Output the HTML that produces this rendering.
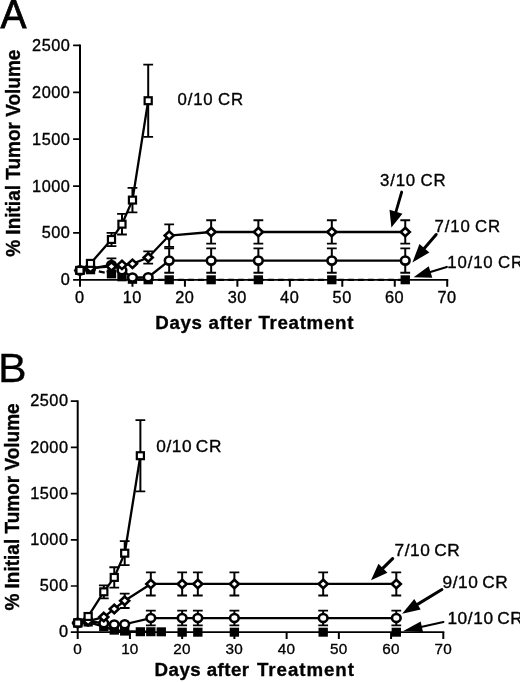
<!DOCTYPE html>
<html lang="en">
<head>
<meta charset="utf-8">
<title>Tumor volume after treatment</title>
<style>
html,body{margin:0;padding:0;background:#fff;}
body{width:520px;height:682px;overflow:hidden;}
svg{display:block;font-family:"Liberation Sans",Arial,Helvetica,sans-serif;fill:#000;}
text{stroke:#000;stroke-width:.35px;}
</style>
</head>
<body>
<svg width="520" height="682" viewBox="0 0 520 682">
<rect width="520" height="682" fill="#fff"/>
<g opacity="0.999">
<path d="M80.00 44.55V280.65" fill="none" stroke="#000" stroke-width="2.0"/>
<path d="M79.00 279.80H448.22" fill="none" stroke="#000" stroke-width="1.7"/>
<path d="M73.10 279.80H80.00M73.10 232.92H80.00M73.10 186.04H80.00M73.10 139.16H80.00M73.10 92.28H80.00M73.10 45.40H80.00" stroke="#000" stroke-width="1.7"/>
<path d="M80.00 279.80V286.70M132.46 279.80V286.70M184.92 279.80V286.70M237.38 279.80V286.70M289.84 279.80V286.70M342.30 279.80V286.70M394.76 279.80V286.70M447.22 279.80V286.70" stroke="#000" stroke-width="2.0"/>
<text transform="translate(69.90 285.30) scale(1.04 1)" x="0.50" font-size="15.7" letter-spacing="0.5" text-anchor="end">0</text>
<text transform="translate(69.90 238.42) scale(1.04 1)" x="0.50" font-size="15.7" letter-spacing="0.5" text-anchor="end">500</text>
<text transform="translate(69.90 191.54) scale(1.04 1)" x="0.50" font-size="15.7" letter-spacing="0.5" text-anchor="end">1000</text>
<text transform="translate(69.90 144.66) scale(1.04 1)" x="0.50" font-size="15.7" letter-spacing="0.5" text-anchor="end">1500</text>
<text transform="translate(69.90 97.78) scale(1.04 1)" x="0.50" font-size="15.7" letter-spacing="0.5" text-anchor="end">2000</text>
<text transform="translate(69.90 50.90) scale(1.04 1)" x="0.50" font-size="15.7" letter-spacing="0.5" text-anchor="end">2500</text>
<text transform="translate(79.60 302.90) scale(1.04 1)" x="0.25" font-size="15.7" letter-spacing="0.5" text-anchor="middle">0</text>
<text transform="translate(132.06 302.90) scale(1.04 1)" x="0.25" font-size="15.7" letter-spacing="0.5" text-anchor="middle">10</text>
<text transform="translate(184.52 302.90) scale(1.04 1)" x="0.25" font-size="15.7" letter-spacing="0.5" text-anchor="middle">20</text>
<text transform="translate(236.98 302.90) scale(1.04 1)" x="0.25" font-size="15.7" letter-spacing="0.5" text-anchor="middle">30</text>
<text transform="translate(289.44 302.90) scale(1.04 1)" x="0.25" font-size="15.7" letter-spacing="0.5" text-anchor="middle">40</text>
<text transform="translate(341.90 302.90) scale(1.04 1)" x="0.25" font-size="15.7" letter-spacing="0.5" text-anchor="middle">50</text>
<text transform="translate(394.36 302.90) scale(1.04 1)" x="0.25" font-size="15.7" letter-spacing="0.5" text-anchor="middle">60</text>
<text transform="translate(446.82 302.90) scale(1.04 1)" x="0.25" font-size="15.7" letter-spacing="0.5" text-anchor="middle">70</text>
<path d="M80.00 270.42L90.49 269.77L111.48 273.89L121.97 276.80L132.46 279.33L148.20 279.80L169.18 279.80L211.15 279.80L258.36 279.80L331.81 279.80L405.25 279.80" fill="none" stroke="#000" stroke-width="2.3" stroke-linejoin="round" stroke-dasharray="6 4" stroke-dashoffset="1"/>
<rect x="75.32" y="265.92" width="9.36" height="9.0" fill="#000"/>
<rect x="85.81" y="265.27" width="9.36" height="9.0" fill="#000"/>
<rect x="106.80" y="269.39" width="9.36" height="9.0" fill="#000"/>
<rect x="117.29" y="272.30" width="9.36" height="9.0" fill="#000"/>
<rect x="127.78" y="274.83" width="9.36" height="9.0" fill="#000"/>
<rect x="143.52" y="275.30" width="9.36" height="9.0" fill="#000"/>
<rect x="164.50" y="275.30" width="9.36" height="9.0" fill="#000"/>
<rect x="206.47" y="275.30" width="9.36" height="9.0" fill="#000"/>
<rect x="253.68" y="275.30" width="9.36" height="9.0" fill="#000"/>
<rect x="327.13" y="275.30" width="9.36" height="9.0" fill="#000"/>
<rect x="400.57" y="275.30" width="9.36" height="9.0" fill="#000"/>
<path d="M80.00 270.42L90.49 268.55L111.48 264.99L121.97 270.24L132.46 277.55L148.20 277.27L169.18 260.58L211.15 260.58L258.36 260.58L331.81 260.58L405.25 260.58" fill="none" stroke="#000" stroke-width="2.3" stroke-linejoin="round"/>
<path d="M111.48 258.42V271.55" fill="none" stroke="#000" stroke-width="2.0"/><path d="M106.58 258.42H116.38M106.58 271.55H116.38" fill="none" stroke="#000" stroke-width="1.8"/>
<path d="M169.18 248.39V272.77" fill="none" stroke="#000" stroke-width="2.0"/><path d="M164.28 248.39H174.08M164.28 272.77H174.08" fill="none" stroke="#000" stroke-width="1.8"/>
<path d="M211.15 248.39V272.77" fill="none" stroke="#000" stroke-width="2.0"/><path d="M206.25 248.39H216.05M206.25 272.77H216.05" fill="none" stroke="#000" stroke-width="1.8"/>
<path d="M258.36 248.39V272.77" fill="none" stroke="#000" stroke-width="2.0"/><path d="M253.46 248.39H263.26M253.46 272.77H263.26" fill="none" stroke="#000" stroke-width="1.8"/>
<path d="M331.81 248.39V272.77" fill="none" stroke="#000" stroke-width="2.0"/><path d="M326.91 248.39H336.71M326.91 272.77H336.71" fill="none" stroke="#000" stroke-width="1.8"/>
<path d="M405.25 248.39V272.77" fill="none" stroke="#000" stroke-width="2.0"/><path d="M400.35 248.39H410.15M400.35 272.77H410.15" fill="none" stroke="#000" stroke-width="1.8"/>
<ellipse cx="80.00" cy="270.42" rx="4.33" ry="4.05" fill="#fff" stroke="#000" stroke-width="2.6"/>
<ellipse cx="90.49" cy="268.55" rx="4.33" ry="4.05" fill="#fff" stroke="#000" stroke-width="2.6"/>
<ellipse cx="111.48" cy="264.99" rx="4.33" ry="4.05" fill="#fff" stroke="#000" stroke-width="2.6"/>
<ellipse cx="121.97" cy="270.24" rx="4.33" ry="4.05" fill="#fff" stroke="#000" stroke-width="2.6"/>
<ellipse cx="132.46" cy="277.55" rx="4.33" ry="4.05" fill="#fff" stroke="#000" stroke-width="2.6"/>
<ellipse cx="148.20" cy="277.27" rx="4.33" ry="4.05" fill="#fff" stroke="#000" stroke-width="2.6"/>
<ellipse cx="169.18" cy="260.58" rx="4.33" ry="4.05" fill="#fff" stroke="#000" stroke-width="2.6"/>
<ellipse cx="211.15" cy="260.58" rx="4.33" ry="4.05" fill="#fff" stroke="#000" stroke-width="2.6"/>
<ellipse cx="258.36" cy="260.58" rx="4.33" ry="4.05" fill="#fff" stroke="#000" stroke-width="2.6"/>
<ellipse cx="331.81" cy="260.58" rx="4.33" ry="4.05" fill="#fff" stroke="#000" stroke-width="2.6"/>
<ellipse cx="405.25" cy="260.58" rx="4.33" ry="4.05" fill="#fff" stroke="#000" stroke-width="2.6"/>
<path d="M80.00 270.42L90.49 268.08L111.48 266.39L121.97 264.89L132.46 263.86L148.20 257.49L169.18 235.55L211.15 231.98L258.36 231.98L331.81 231.98L405.25 231.98" fill="none" stroke="#000" stroke-width="2.3" stroke-linejoin="round"/>
<path d="M148.20 251.39V263.58" fill="none" stroke="#000" stroke-width="2.0"/><path d="M143.30 251.39H153.10M143.30 263.58H153.10" fill="none" stroke="#000" stroke-width="1.8"/>
<path d="M169.18 224.29V246.80" fill="none" stroke="#000" stroke-width="2.0"/><path d="M164.28 224.29H174.08M164.28 246.80H174.08" fill="none" stroke="#000" stroke-width="1.8"/>
<path d="M211.15 220.26V243.70" fill="none" stroke="#000" stroke-width="2.0"/><path d="M206.25 220.26H216.05M206.25 243.70H216.05" fill="none" stroke="#000" stroke-width="1.8"/>
<path d="M258.36 220.26V243.70" fill="none" stroke="#000" stroke-width="2.0"/><path d="M253.46 220.26H263.26M253.46 243.70H263.26" fill="none" stroke="#000" stroke-width="1.8"/>
<path d="M331.81 220.26V243.70" fill="none" stroke="#000" stroke-width="2.0"/><path d="M326.91 220.26H336.71M326.91 243.70H336.71" fill="none" stroke="#000" stroke-width="1.8"/>
<path d="M405.25 220.26V243.70" fill="none" stroke="#000" stroke-width="2.0"/><path d="M400.35 220.26H410.15M400.35 243.70H410.15" fill="none" stroke="#000" stroke-width="1.8"/>
<path d="M80.00 266.22L84.49 270.42L80.00 274.62L75.51 270.42Z" fill="#fff" stroke="#000" stroke-width="2.6" stroke-linejoin="miter"/>
<path d="M90.49 263.88L94.99 268.08L90.49 272.28L86.00 268.08Z" fill="#fff" stroke="#000" stroke-width="2.6" stroke-linejoin="miter"/>
<path d="M111.48 262.19L115.97 266.39L111.48 270.59L106.98 266.39Z" fill="#fff" stroke="#000" stroke-width="2.6" stroke-linejoin="miter"/>
<path d="M121.97 260.69L126.46 264.89L121.97 269.09L117.47 264.89Z" fill="#fff" stroke="#000" stroke-width="2.6" stroke-linejoin="miter"/>
<path d="M132.46 259.66L136.95 263.86L132.46 268.06L127.97 263.86Z" fill="#fff" stroke="#000" stroke-width="2.6" stroke-linejoin="miter"/>
<path d="M148.20 253.29L152.69 257.49L148.20 261.69L143.70 257.49Z" fill="#fff" stroke="#000" stroke-width="2.6" stroke-linejoin="miter"/>
<path d="M169.18 231.35L173.68 235.55L169.18 239.75L164.69 235.55Z" fill="#fff" stroke="#000" stroke-width="2.6" stroke-linejoin="miter"/>
<path d="M211.15 227.78L215.64 231.98L211.15 236.18L206.66 231.98Z" fill="#fff" stroke="#000" stroke-width="2.6" stroke-linejoin="miter"/>
<path d="M258.36 227.78L262.86 231.98L258.36 236.18L253.87 231.98Z" fill="#fff" stroke="#000" stroke-width="2.6" stroke-linejoin="miter"/>
<path d="M331.81 227.78L336.30 231.98L331.81 236.18L327.31 231.98Z" fill="#fff" stroke="#000" stroke-width="2.6" stroke-linejoin="miter"/>
<path d="M405.25 227.78L409.75 231.98L405.25 236.18L400.76 231.98Z" fill="#fff" stroke="#000" stroke-width="2.6" stroke-linejoin="miter"/>
<path d="M80.00 270.42L90.49 263.39L111.48 239.48L121.97 224.20L132.46 200.10L148.20 100.72" fill="none" stroke="#000" stroke-width="2.3" stroke-linejoin="round"/>
<path d="M111.48 232.92V246.05" fill="none" stroke="#000" stroke-width="2.0"/><path d="M106.58 232.92H116.38M106.58 246.05H116.38" fill="none" stroke="#000" stroke-width="1.8"/>
<path d="M121.97 213.89V234.51" fill="none" stroke="#000" stroke-width="2.0"/><path d="M117.07 213.89H126.87M117.07 234.51H126.87" fill="none" stroke="#000" stroke-width="1.8"/>
<path d="M132.46 187.92V212.29" fill="none" stroke="#000" stroke-width="2.0"/><path d="M127.56 187.92H137.36M127.56 212.29H137.36" fill="none" stroke="#000" stroke-width="1.8"/>
<path d="M148.20 64.62V136.82" fill="none" stroke="#000" stroke-width="2.0"/><path d="M143.30 64.62H153.10M143.30 136.82H153.10" fill="none" stroke="#000" stroke-width="1.8"/>
<rect x="76.45" y="266.97" width="7.11" height="6.9" fill="#fff" stroke="#000" stroke-width="2.2"/>
<rect x="86.94" y="259.94" width="7.11" height="6.9" fill="#fff" stroke="#000" stroke-width="2.2"/>
<rect x="107.92" y="236.03" width="7.11" height="6.9" fill="#fff" stroke="#000" stroke-width="2.2"/>
<rect x="118.41" y="220.75" width="7.11" height="6.9" fill="#fff" stroke="#000" stroke-width="2.2"/>
<rect x="128.91" y="196.65" width="7.11" height="6.9" fill="#fff" stroke="#000" stroke-width="2.2"/>
<rect x="144.64" y="97.27" width="7.11" height="6.9" fill="#fff" stroke="#000" stroke-width="2.2"/>
<text transform="translate(177.50 104.80) scale(1.05 1)" x="0.00" font-size="16" letter-spacing="0.8" word-spacing="-1.0">0/10 CR</text>
<text transform="translate(380.00 185.80) scale(1.05 1)" x="0.00" font-size="16" letter-spacing="0.8" word-spacing="-1.0">3/10 CR</text>
<text transform="translate(434.60 231.70) scale(1.05 1)" x="0.00" font-size="16" letter-spacing="0.8" word-spacing="-1.0">7/10 CR</text>
<text transform="translate(447.30 268.20) scale(1.05 1)" x="0.00" font-size="16" letter-spacing="0.8" word-spacing="-1.0">10/10 CR</text>
<path d="M401.70 192.00L395.71 212.71" stroke="#000" stroke-width="2.8" fill="none" stroke-linecap="round"/><path d="M391.40 227.60L389.50 209.87L402.47 213.63Z" fill="#000"/>
<path d="M436.20 234.50L423.76 249.09" stroke="#000" stroke-width="3.0" fill="none" stroke-linecap="round"/><path d="M412.40 262.40L419.46 244.11L429.35 252.54Z" fill="#000"/>
<path d="M446.80 267.00L429.56 272.30" stroke="#000" stroke-width="2.2" fill="none" stroke-linecap="round"/><path d="M413.60 277.20L428.73 266.17L432.31 277.83Z" fill="#000"/>
<text x="155.20" y="329.20" font-size="18.7" letter-spacing="0.7" font-weight="bold">Days after Treatment</text>
<text transform="translate(20.3 153.2) rotate(-90) scale(1 1.1)" font-size="19" text-anchor="middle" font-weight="bold">% Initial Tumor Volume</text>
<text transform="translate(0.4 28.1) scale(0.955 1.0)" font-size="40.8" style="stroke-width:.8px">A</text>
<path d="M77.70 400.35V633.05" fill="none" stroke="#000" stroke-width="2.0"/>
<path d="M76.70 632.20H444.31" fill="none" stroke="#000" stroke-width="1.7"/>
<path d="M70.80 632.20H77.70M70.80 586.00H77.70M70.80 539.80H77.70M70.80 493.60H77.70M70.80 447.40H77.70M70.80 401.20H77.70" stroke="#000" stroke-width="1.7"/>
<path d="M77.70 632.20V639.10M129.93 632.20V639.10M182.16 632.20V639.10M234.39 632.20V639.10M286.62 632.20V639.10M338.85 632.20V639.10M391.08 632.20V639.10M443.31 632.20V639.10" stroke="#000" stroke-width="2.0"/>
<text transform="translate(68.00 637.30) scale(1.04 1)" x="0.50" font-size="15.7" letter-spacing="0.5" text-anchor="end">0</text>
<text transform="translate(68.00 591.10) scale(1.04 1)" x="0.50" font-size="15.7" letter-spacing="0.5" text-anchor="end">500</text>
<text transform="translate(68.00 544.90) scale(1.04 1)" x="0.50" font-size="15.7" letter-spacing="0.5" text-anchor="end">1000</text>
<text transform="translate(68.00 498.70) scale(1.04 1)" x="0.50" font-size="15.7" letter-spacing="0.5" text-anchor="end">1500</text>
<text transform="translate(68.00 452.50) scale(1.04 1)" x="0.50" font-size="15.7" letter-spacing="0.5" text-anchor="end">2000</text>
<text transform="translate(68.00 406.30) scale(1.04 1)" x="0.50" font-size="15.7" letter-spacing="0.5" text-anchor="end">2500</text>
<text x="77.58" y="654.40" font-size="15.3" letter-spacing="0.15" text-anchor="middle">0</text>
<text x="129.81" y="654.40" font-size="15.3" letter-spacing="0.15" text-anchor="middle">10</text>
<text x="182.03" y="654.40" font-size="15.3" letter-spacing="0.15" text-anchor="middle">20</text>
<text x="234.26" y="654.40" font-size="15.3" letter-spacing="0.15" text-anchor="middle">30</text>
<text x="286.50" y="654.40" font-size="15.3" letter-spacing="0.15" text-anchor="middle">40</text>
<text x="338.72" y="654.40" font-size="15.3" letter-spacing="0.15" text-anchor="middle">50</text>
<text x="390.95" y="654.40" font-size="15.3" letter-spacing="0.15" text-anchor="middle">60</text>
<text x="443.19" y="654.40" font-size="15.3" letter-spacing="0.15" text-anchor="middle">70</text>
<path d="M77.70 622.96L88.15 622.04L103.81 626.66L114.26 630.17L124.71 631.09L140.38 631.74L150.82 631.74" fill="none" stroke="#000" stroke-width="2.3" stroke-linejoin="round"/>
<rect x="73.02" y="618.46" width="9.36" height="9.0" fill="#000"/>
<rect x="83.47" y="617.54" width="9.36" height="9.0" fill="#000"/>
<rect x="99.13" y="622.16" width="9.36" height="9.0" fill="#000"/>
<rect x="109.58" y="625.67" width="9.36" height="9.0" fill="#000"/>
<rect x="120.03" y="626.59" width="9.36" height="9.0" fill="#000"/>
<rect x="135.70" y="627.24" width="9.36" height="9.0" fill="#000"/>
<rect x="146.14" y="627.24" width="9.36" height="9.0" fill="#000"/>
<rect x="156.59" y="627.33" width="9.36" height="9.0" fill="#000"/>
<rect x="177.48" y="627.70" width="9.36" height="9.0" fill="#000"/>
<rect x="193.15" y="627.70" width="9.36" height="9.0" fill="#000"/>
<rect x="229.71" y="627.70" width="9.36" height="9.0" fill="#000"/>
<rect x="318.50" y="627.70" width="9.36" height="9.0" fill="#000"/>
<rect x="391.62" y="627.70" width="9.36" height="9.0" fill="#000"/>
<path d="M77.70 622.96L88.15 621.11L103.81 623.24L114.26 624.62L124.71 624.25L150.82 618.06L182.16 618.06L197.83 618.06L234.39 618.06L323.18 618.06L396.30 618.06" fill="none" stroke="#000" stroke-width="2.3" stroke-linejoin="round"/>
<path d="M150.82 610.67V625.45" fill="none" stroke="#000" stroke-width="2.0"/><path d="M145.92 610.67H155.72M145.92 625.45H155.72" fill="none" stroke="#000" stroke-width="1.8"/>
<path d="M182.16 610.67V625.45" fill="none" stroke="#000" stroke-width="2.0"/><path d="M177.26 610.67H187.06M177.26 625.45H187.06" fill="none" stroke="#000" stroke-width="1.8"/>
<path d="M197.83 610.67V625.45" fill="none" stroke="#000" stroke-width="2.0"/><path d="M192.93 610.67H202.73M192.93 625.45H202.73" fill="none" stroke="#000" stroke-width="1.8"/>
<path d="M234.39 610.67V625.45" fill="none" stroke="#000" stroke-width="2.0"/><path d="M229.49 610.67H239.29M229.49 625.45H239.29" fill="none" stroke="#000" stroke-width="1.8"/>
<path d="M323.18 610.67V625.45" fill="none" stroke="#000" stroke-width="2.0"/><path d="M318.28 610.67H328.08M318.28 625.45H328.08" fill="none" stroke="#000" stroke-width="1.8"/>
<path d="M396.30 610.67V625.45" fill="none" stroke="#000" stroke-width="2.0"/><path d="M391.40 610.67H401.20M391.40 625.45H401.20" fill="none" stroke="#000" stroke-width="1.8"/>
<ellipse cx="77.70" cy="622.96" rx="4.33" ry="4.05" fill="#fff" stroke="#000" stroke-width="2.6"/>
<ellipse cx="88.15" cy="621.11" rx="4.33" ry="4.05" fill="#fff" stroke="#000" stroke-width="2.6"/>
<ellipse cx="103.81" cy="623.24" rx="4.33" ry="4.05" fill="#fff" stroke="#000" stroke-width="2.6"/>
<ellipse cx="114.26" cy="624.62" rx="4.33" ry="4.05" fill="#fff" stroke="#000" stroke-width="2.6"/>
<ellipse cx="124.71" cy="624.25" rx="4.33" ry="4.05" fill="#fff" stroke="#000" stroke-width="2.6"/>
<ellipse cx="150.82" cy="618.06" rx="4.33" ry="4.05" fill="#fff" stroke="#000" stroke-width="2.6"/>
<ellipse cx="182.16" cy="618.06" rx="4.33" ry="4.05" fill="#fff" stroke="#000" stroke-width="2.6"/>
<ellipse cx="197.83" cy="618.06" rx="4.33" ry="4.05" fill="#fff" stroke="#000" stroke-width="2.6"/>
<ellipse cx="234.39" cy="618.06" rx="4.33" ry="4.05" fill="#fff" stroke="#000" stroke-width="2.6"/>
<ellipse cx="323.18" cy="618.06" rx="4.33" ry="4.05" fill="#fff" stroke="#000" stroke-width="2.6"/>
<ellipse cx="396.30" cy="618.06" rx="4.33" ry="4.05" fill="#fff" stroke="#000" stroke-width="2.6"/>
<path d="M77.70 622.96L88.15 621.11L103.81 617.05L114.26 608.92L124.71 600.78L150.82 583.97L182.16 583.97L197.83 583.97L234.39 583.97L323.18 583.97L396.30 583.97" fill="none" stroke="#000" stroke-width="2.3" stroke-linejoin="round"/>
<path d="M124.71 593.58V607.99" fill="none" stroke="#000" stroke-width="2.0"/><path d="M119.81 593.58H129.61M119.81 607.99H129.61" fill="none" stroke="#000" stroke-width="1.8"/>
<path d="M150.82 572.42V595.52" fill="none" stroke="#000" stroke-width="2.0"/><path d="M145.92 572.42H155.72M145.92 595.52H155.72" fill="none" stroke="#000" stroke-width="1.8"/>
<path d="M182.16 572.42V595.52" fill="none" stroke="#000" stroke-width="2.0"/><path d="M177.26 572.42H187.06M177.26 595.52H187.06" fill="none" stroke="#000" stroke-width="1.8"/>
<path d="M197.83 572.42V595.52" fill="none" stroke="#000" stroke-width="2.0"/><path d="M192.93 572.42H202.73M192.93 595.52H202.73" fill="none" stroke="#000" stroke-width="1.8"/>
<path d="M234.39 572.42V595.52" fill="none" stroke="#000" stroke-width="2.0"/><path d="M229.49 572.42H239.29M229.49 595.52H239.29" fill="none" stroke="#000" stroke-width="1.8"/>
<path d="M323.18 572.42V595.52" fill="none" stroke="#000" stroke-width="2.0"/><path d="M318.28 572.42H328.08M318.28 595.52H328.08" fill="none" stroke="#000" stroke-width="1.8"/>
<path d="M396.30 572.42V595.52" fill="none" stroke="#000" stroke-width="2.0"/><path d="M391.40 572.42H401.20M391.40 595.52H401.20" fill="none" stroke="#000" stroke-width="1.8"/>
<path d="M77.70 618.76L82.19 622.96L77.70 627.16L73.21 622.96Z" fill="#fff" stroke="#000" stroke-width="2.6" stroke-linejoin="miter"/>
<path d="M88.15 616.91L92.64 621.11L88.15 625.31L83.65 621.11Z" fill="#fff" stroke="#000" stroke-width="2.6" stroke-linejoin="miter"/>
<path d="M103.81 612.85L108.31 617.05L103.81 621.25L99.32 617.05Z" fill="#fff" stroke="#000" stroke-width="2.6" stroke-linejoin="miter"/>
<path d="M114.26 604.72L118.75 608.92L114.26 613.12L109.77 608.92Z" fill="#fff" stroke="#000" stroke-width="2.6" stroke-linejoin="miter"/>
<path d="M124.71 596.58L129.20 600.78L124.71 604.98L120.21 600.78Z" fill="#fff" stroke="#000" stroke-width="2.6" stroke-linejoin="miter"/>
<path d="M150.82 579.77L155.32 583.97L150.82 588.17L146.33 583.97Z" fill="#fff" stroke="#000" stroke-width="2.6" stroke-linejoin="miter"/>
<path d="M182.16 579.77L186.65 583.97L182.16 588.17L177.67 583.97Z" fill="#fff" stroke="#000" stroke-width="2.6" stroke-linejoin="miter"/>
<path d="M197.83 579.77L202.32 583.97L197.83 588.17L193.34 583.97Z" fill="#fff" stroke="#000" stroke-width="2.6" stroke-linejoin="miter"/>
<path d="M234.39 579.77L238.88 583.97L234.39 588.17L229.90 583.97Z" fill="#fff" stroke="#000" stroke-width="2.6" stroke-linejoin="miter"/>
<path d="M323.18 579.77L327.68 583.97L323.18 588.17L318.69 583.97Z" fill="#fff" stroke="#000" stroke-width="2.6" stroke-linejoin="miter"/>
<path d="M396.30 579.77L400.80 583.97L396.30 588.17L391.81 583.97Z" fill="#fff" stroke="#000" stroke-width="2.6" stroke-linejoin="miter"/>
<path d="M77.70 622.96L88.15 616.49L103.81 591.82L114.26 577.41L124.71 553.20L140.38 455.72" fill="none" stroke="#000" stroke-width="2.3" stroke-linejoin="round"/>
<path d="M103.81 585.35V598.29" fill="none" stroke="#000" stroke-width="2.0"/><path d="M98.91 585.35H108.72M98.91 598.29H108.72" fill="none" stroke="#000" stroke-width="1.8"/>
<path d="M114.26 567.24V587.57" fill="none" stroke="#000" stroke-width="2.0"/><path d="M109.36 567.24H119.16M109.36 587.57H119.16" fill="none" stroke="#000" stroke-width="1.8"/>
<path d="M124.71 541.19V565.21" fill="none" stroke="#000" stroke-width="2.0"/><path d="M119.81 541.19H129.61M119.81 565.21H129.61" fill="none" stroke="#000" stroke-width="1.8"/>
<path d="M140.38 420.14V491.29" fill="none" stroke="#000" stroke-width="2.0"/><path d="M135.48 420.14H145.28M135.48 491.29H145.28" fill="none" stroke="#000" stroke-width="1.8"/>
<rect x="74.15" y="619.51" width="7.11" height="6.9" fill="#fff" stroke="#000" stroke-width="2.2"/>
<rect x="84.59" y="613.04" width="7.11" height="6.9" fill="#fff" stroke="#000" stroke-width="2.2"/>
<rect x="100.26" y="588.37" width="7.11" height="6.9" fill="#fff" stroke="#000" stroke-width="2.2"/>
<rect x="110.71" y="573.96" width="7.11" height="6.9" fill="#fff" stroke="#000" stroke-width="2.2"/>
<rect x="121.15" y="549.75" width="7.11" height="6.9" fill="#fff" stroke="#000" stroke-width="2.2"/>
<rect x="136.82" y="452.27" width="7.11" height="6.9" fill="#fff" stroke="#000" stroke-width="2.2"/>
<text transform="translate(156.20 451.60) scale(1.08 1)" x="0.00" font-size="16" letter-spacing="0.55" word-spacing="-1.6">0/10 CR</text>
<text transform="translate(394.50 556.00) scale(1.08 1)" x="0.00" font-size="16" letter-spacing="0.55" word-spacing="-1.6">7/10 CR</text>
<text transform="translate(442.50 588.30) scale(1.08 1)" x="0.00" font-size="16" letter-spacing="0.55" word-spacing="-1.6">9/10 CR</text>
<text transform="translate(447.40 624.00) scale(1.08 1)" x="0.00" font-size="16" letter-spacing="0.55" word-spacing="-1.6">10/10 CR</text>
<path d="M392.60 558.60L382.24 568.96" stroke="#000" stroke-width="3.1" fill="none" stroke-linecap="round"/><path d="M371.00 580.20L378.46 563.76L387.44 572.74Z" fill="#000"/>
<path d="M441.90 589.50L416.63 604.87" stroke="#000" stroke-width="3.0" fill="none" stroke-linecap="round"/><path d="M402.10 613.70L414.28 599.09L420.68 609.60Z" fill="#000"/>
<path d="M443.40 622.00L420.87 627.00" stroke="#000" stroke-width="2.2" fill="none" stroke-linecap="round"/><path d="M403.30 630.90L420.69 621.56L423.01 632.01Z" fill="#000"/>
<text x="154.60" y="676.00" font-size="18.7" letter-spacing="0.45" font-weight="bold">Days after <tspan x="257.0" letter-spacing="0.95">Treatment</tspan></text>
<text transform="translate(19.3 507) rotate(-90) scale(1 1.1)" font-size="19" text-anchor="middle" font-weight="bold">% Initial Tumor Volume</text>
<text transform="translate(-2.0 382.0) scale(1.05 1.0)" font-size="40.8" style="stroke-width:.25px">B</text>
</g>
</svg>
</body>
</html>
